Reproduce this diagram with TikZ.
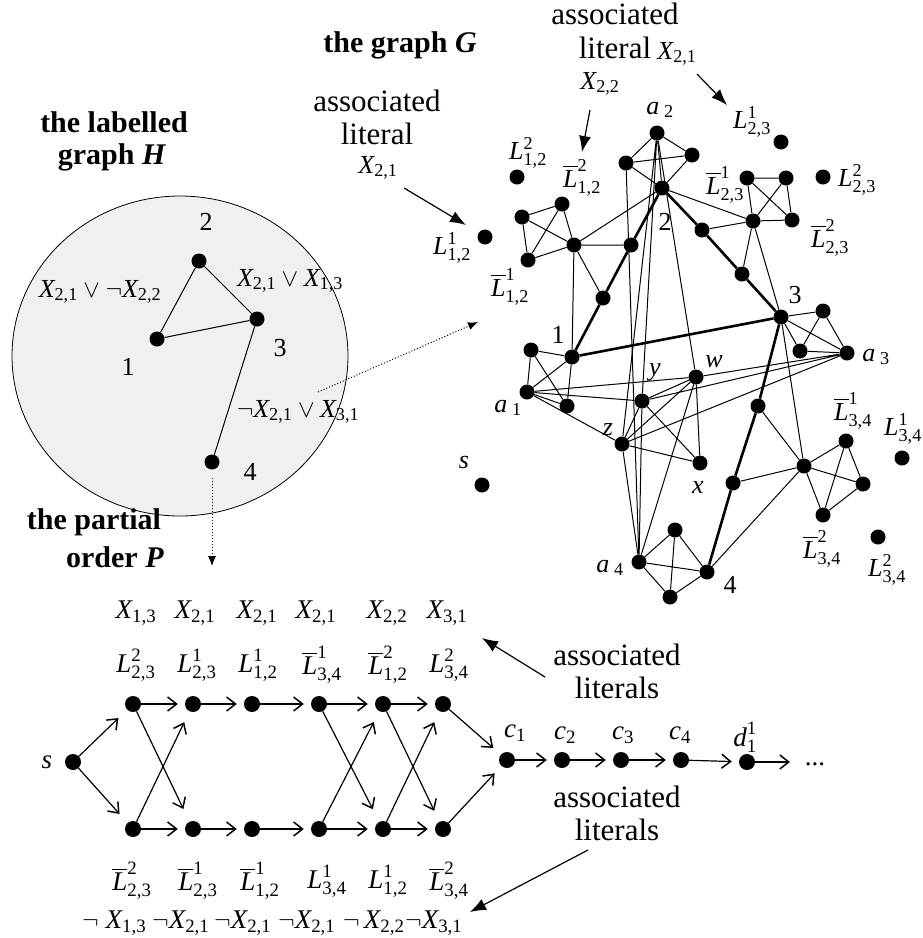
\documentclass[tikz,border=0pt]{standalone}
\usepackage{amsmath}
\usepackage{fontspec}
\setmainfont{Liberation Serif}
\usetikzlibrary{arrows.meta}
\newcommand\vX[1]{\ensuremath{\textit{X}_{\text{#1}}}}
\newcommand\vL[2]{\ensuremath{\textit{L}^{\text{#1}}_{\text{#2}}}}
\newcommand\vLb[2]{\ensuremath{\overline{\textit{L}}^{\text{#1}}_{\text{#2}}}}
\newcommand\nX[1]{\ensuremath{\neg\textit{X}_{\text{#1}}}}
\begin{document}
\begin{tikzpicture}[x=1pt,y=-1pt,
  dot/.style={circle,fill=black,inner sep=0pt,minimum size=15pt},
  pdot/.style={circle,fill=black,inner sep=0pt,minimum size=16pt},
  ed/.style={line width=1pt},
  tk/.style={line width=2.6pt},
  lab/.style={inner sep=0pt,font=\fontsize{26}{30}\selectfont},
  plab/.style={inner sep=0pt,font=\fontsize{27}{31}\selectfont},
  txt/.style={inner sep=0pt,font=\fontsize{31}{35}\selectfont},
  ttl/.style={inner sep=0pt,font=\fontsize{30}{34}\selectfont\bfseries},
  parr/.style={line width=1.2pt,-{Straight Barb[length=9pt,width=14pt,line width=1.5pt]}},
  bigarr/.style={line width=1.2pt,-{Latex[length=16pt,width=12pt]}},
  dotarr/.style={dotted,line width=1pt,-{Latex[length=10pt,width=8pt]}},
]
\useasboundingbox (0,0) rectangle (923,938);

% ---------------- graph H ----------------
\draw[fill=gray!12,line width=0.8pt] (180,356) ellipse [x radius=168, y radius=160];
\node[dot] (h1) at (157,339) {};
\node[dot] (h2) at (199,261) {};
\node[dot] (h3) at (257,319) {};
\node[dot] (h4) at (212,462) {};
\draw[ed] (h1)--(h2)--(h3)--(h1) (h3)--(h4);
\node[lab] (hl2) at (206,222) {2};
\node[lab] (hl1) at (128,367) {1};
\node[lab] (hl3) at (280,348) {3};
\node[lab] (hl4) at (250,472) {4};
\node[lab] (he12) at (100,292) {$\textit{X}_{\text{2,1}}\vee\neg\textit{X}_{\text{2,2}}$};
\node[lab] (he23) at (290,281) {$\textit{X}_{\text{2,1}}\vee\textit{X}_{\text{1,3}}$};
\node[lab] (he34) at (298,412) {$\neg\textit{X}_{\text{2,1}}\vee\textit{X}_{\text{3,1}}$};
\node[ttl] (tH1) at (114,122) {the labelled};
\node[ttl] (tH2) at (112,157) {graph \textit{H}};
\node[ttl] (tG) at (400,45) {the graph \textit{G}};
\node[ttl] (tP1) at (94,522) {the partial};
\node[ttl] (tP2) at (115,557) {order \textit{P}};
\coordinate (hd1) at (318,392);
\coordinate (hd2) at (478,322);
\draw[dotarr] (hd1)--(hd2);
\coordinate (hd3) at (212,478);
\coordinate (hd4) at (212,566);
\draw[dotarr] (hd3)--(hd4);

% ---------------- graph G ----------------
\foreach \n/\x/\y in {a2/657/133,g2l/626/163,g2r/692/155,n2/662/188,
  iLa/485/237,iLb/517/177,k1a/562/204,k1b/522/217,k1c/528/260,k1d/574/245,
  p21/631/245,p12/603/298,p23a/702/230,p23b/742/274,
  iLc/781/142,iLd/823/177,k2a/747/178,k2b/786/178,k2c/792/220,k2d/753/221,
  n3/781/317,t3/823/311,u3/800/351,a3/847/353,
  n1/572/357,r1/531/350,a1/527/392,s1/567/406,
  vy/642/401,vw/696/377,vz/622/444,vx/700/463,
  p34a/758/406,p34b/733/483,
  k3a/804/466,k3b/846/441,k3c/863/484,k3d/823/515,
  iLe/902/458,iLf/878/537,
  q4/675/530,a4/639/562,n4/707/572,r4/670/597,sG/482/485}
  {\node[dot] (\n) at (\x,\y) {};}
% K4 clusters
\foreach \a/\b/\c/\d in {a2/g2l/g2r/n2,k1a/k1b/k1c/k1d,k2a/k2b/k2c/k2d,
  n3/t3/u3/a3,n1/r1/a1/s1,k3a/k3b/k3c/k3d,q4/a4/n4/r4,vx/vy/vz/vw}
  {\draw[ed] (\a)--(\b) (\a)--(\c) (\a)--(\d) (\b)--(\c) (\b)--(\d) (\c)--(\d);}
\draw[ed] (k1d)--(n2) (k1d)--(p21) (k1d)--(n1) (k1d)--(p12);
\draw[ed] (k2d)--(n2) (k2d)--(p23a) (k2d)--(p23b) (k2d)--(n3);
\draw[ed] (k3a)--(p34a) (k3a)--(p34b) (k3a)--(n3) (k3a)--(n4);
\foreach \a in {a1,a2,a3,a4}
  {\draw[ed] (\a)--(vy) (\a)--(vz) (\a)--(vw);}
\draw[ed] (g2l)--(a4);
\draw[tk] (n1)--(p12)--(p21)--(n2)--(p23a)--(p23b)--(n3)--(n1);
\draw[tk] (n3)--(p34a)--(p34b)--(n4);
% labels in G
\node[lab] (la2) at (660,110) {$\textit{a}_{\;\text{2}}$};
\node[lab] (la1) at (508,408) {$\textit{a}_{\;\text{1}}$};
\node[lab] (la3) at (876,357) {$\textit{a}_{\;\text{3}}$};
\node[lab] (la4) at (610,568) {$\textit{a}_{\;\text{4}}$};
\node[lab] (ln2) at (665,222) {2};
\node[lab] (ln3) at (795,295) {3};
\node[lab] (ln1) at (558,335) {1};
\node[lab] (ln4) at (730,585) {4};
\node[lab] (lvy) at (655,372) {\textit{y}};
\node[lab] (lvw) at (714,362) {\textit{w}};
\node[lab] (lvz) at (608,430) {\textit{z}};
\node[lab] (lvx) at (698,488) {\textit{x}};
\node[lab] (lsG) at (464,462) {\textit{s}};
\node[lab] (lLc) at (752,122) {\vL{1}{2,3}};
\node[lab] (lLd) at (857,180) {\vL{2}{2,3}};
\node[lab] (lk2a) at (725,185) {\vLb{1}{2,3}};
\node[lab] (lk2c) at (830,238) {\vLb{2}{2,3}};
\node[lab] (lk3b) at (853,411) {\vLb{1}{3,4}};
\node[lab] (lLe) at (903,429) {\vL{1}{3,4}};
\node[lab] (lk3d) at (822,549) {\vLb{2}{3,4}};
\node[lab] (lLf) at (887,570) {\vL{2}{3,4}};
\node[lab] (lLb) at (528,153) {\vL{2}{1,2}};
\node[lab] (lk1a) at (582,178) {\vLb{2}{1,2}};
\node[lab] (lLa) at (452,248) {\vL{1}{1,2}};
\node[lab] (lk1c) at (510,287) {\vLb{1}{1,2}};
% associated literal annotations
\node[txt] (asA1) at (615,14) {associated};
\node[txt] (asA2) at (615,48) {literal};
\node[lab] (asA3) at (600,84) {\vX{2,2}};
\coordinate (arA1) at (590,110);
\coordinate (arA2) at (582,152);
\draw[bigarr] (arA1)--(arA2);
\node[lab] (asC) at (677,54) {\vX{2,1}};
\coordinate (arC1) at (697,74);
\coordinate (arC2) at (727,105);
\draw[bigarr] (arC1)--(arC2);
\node[txt] (asB1) at (377,101) {associated};
\node[txt] (asB2) at (377,134) {literal};
\node[lab] (asB3) at (378,168) {\vX{2,1}};
\coordinate (arB1) at (404,188);
\coordinate (arB2) at (466,225);
\draw[bigarr] (arB1)--(arB2);

% ---------------- partial order P ----------------
\node[pdot] (s) at (73,762) {};
\node[plab] (ls) at (47,762) {\textit{s}};
\foreach \i/\x in {1/133,2/193,3/252,4/319,5/383,6/443}
  {\node[pdot] (T\i) at (\x,704) {};
   \node[pdot] (B\i) at (\x,829) {};}
\foreach \i/\x in {1/507,2/562,3/621,4/681}
  {\node[pdot] (c\i) at (\x,760) {};}
\node[pdot] (d1) at (747,762) {};
\coordinate (dend) at (790,762);
\node[plab] (dots) at (815,764) {...};
\draw[parr,shorten >=7pt] (T1)--(T2);
\draw[parr,shorten >=7pt] (T2)--(T3);
\draw[parr,shorten >=7pt] (T3)--(T4);
\draw[parr,shorten >=7pt] (T4)--(T5);
\draw[parr,shorten >=7pt] (T5)--(T6);
\draw[parr,shorten >=7pt] (B1)--(B2);
\draw[parr,shorten >=7pt] (B2)--(B3);
\draw[parr,shorten >=7pt] (B3)--(B4);
\draw[parr,shorten >=7pt] (B4)--(B5);
\draw[parr,shorten >=7pt] (B5)--(B6);
\draw[parr,shorten >=7pt] (c1)--(c2);
\draw[parr,shorten >=7pt] (c2)--(c3);
\draw[parr,shorten >=7pt] (c3)--(c4);
\draw[parr,shorten >=7pt] (c4)--(d1);
\draw[parr] (d1)--(dend);
\draw[parr,shorten >=12pt] (s)--(T1);
\draw[parr,shorten >=12pt] (s)--(B1);
\draw[parr,shorten >=14pt] (T1)--(B2);
\draw[parr,shorten >=12pt] (B1)--(T2);
\draw[parr,shorten >=14pt] (T4)--(B5);
\draw[parr,shorten >=12pt] (B4)--(T5);
\draw[parr,shorten >=12pt] (T5)--(B6);
\draw[parr,shorten >=12pt] (B5)--(T6);
\draw[parr,shorten >=10pt] (T6)--(c1);
\draw[parr,shorten >=10pt] (B6)--(c1);
\node[plab] (lc1) at (515,733) {$\textit{c}_{\text{1}}$};
\node[plab] (lc2) at (565,735) {$\textit{c}_{\text{2}}$};
\node[plab] (lc3) at (623,735) {$\textit{c}_{\text{3}}$};
\node[plab] (lc4) at (680,735) {$\textit{c}_{\text{4}}$};
\node[plab] (ld1) at (745,737) {$\textit{d}^{\text{1}}_{\text{1}}$};
% top labels
\foreach \x/\t in {136/{1,3},195/{2,1},257/{2,1},316/{2,1},387/{2,2},447/{3,1}}
  {\node[plab] at (\x,613) {\vX{\t}};}
\node[plab] (tl1) at (136,665) {\vL{2}{2,3}};
\node[plab] (tl2) at (197,665) {\vL{1}{2,3}};
\node[plab] (tl3) at (258,665) {\vL{1}{1,2}};
\node[plab] (tl4) at (322,665) {\vLb{1}{3,4}};
\node[plab] (tl5) at (388,665) {\vLb{2}{1,2}};
\node[plab] (tl6) at (449,665) {\vL{2}{3,4}};
% bottom labels
\node[plab] (bl1) at (132,881) {\vLb{2}{2,3}};
\node[plab] (bl2) at (198,881) {\vLb{1}{2,3}};
\node[plab] (bl3) at (260,881) {\vLb{1}{1,2}};
\node[plab] (bl4) at (327,881) {\vL{1}{3,4}};
\node[plab] (bl5) at (388,881) {\vL{1}{1,2}};
\node[plab] (bl6) at (449,881) {\vLb{2}{3,4}};
\node[plab,anchor=west] (nx1) at (82,923) {$\neg\;\textit{X}_{\text{1,3}}$};
\node[plab,anchor=west] (nx2) at (152,923) {\nX{2,1}};
\node[plab,anchor=west] (nx3) at (214,923) {\nX{2,1}};
\node[plab,anchor=west] (nx4) at (278,923) {\nX{2,1}};
\node[plab,anchor=west] (nx5) at (343,923) {$\neg\,\textit{X}_{\text{2,2}}$};
\node[plab,anchor=west] (nx6) at (405,923) {\nX{3,1}};
% associated literals (P)
\node[txt] (asP1) at (617,655) {associated};
\node[txt] (asP2) at (617,688) {literals};
\coordinate (arP1) at (545,677);
\coordinate (arP2) at (482,638);
\draw[bigarr] (arP1)--(arP2);
\node[txt] (asQ1) at (617,797) {associated};
\node[txt] (asQ2) at (617,830) {literals};
\coordinate (arQ1) at (588,850);
\coordinate (arQ2) at (470,912);
\draw[bigarr] (arQ1)--(arQ2);
\end{tikzpicture}
\end{document}
